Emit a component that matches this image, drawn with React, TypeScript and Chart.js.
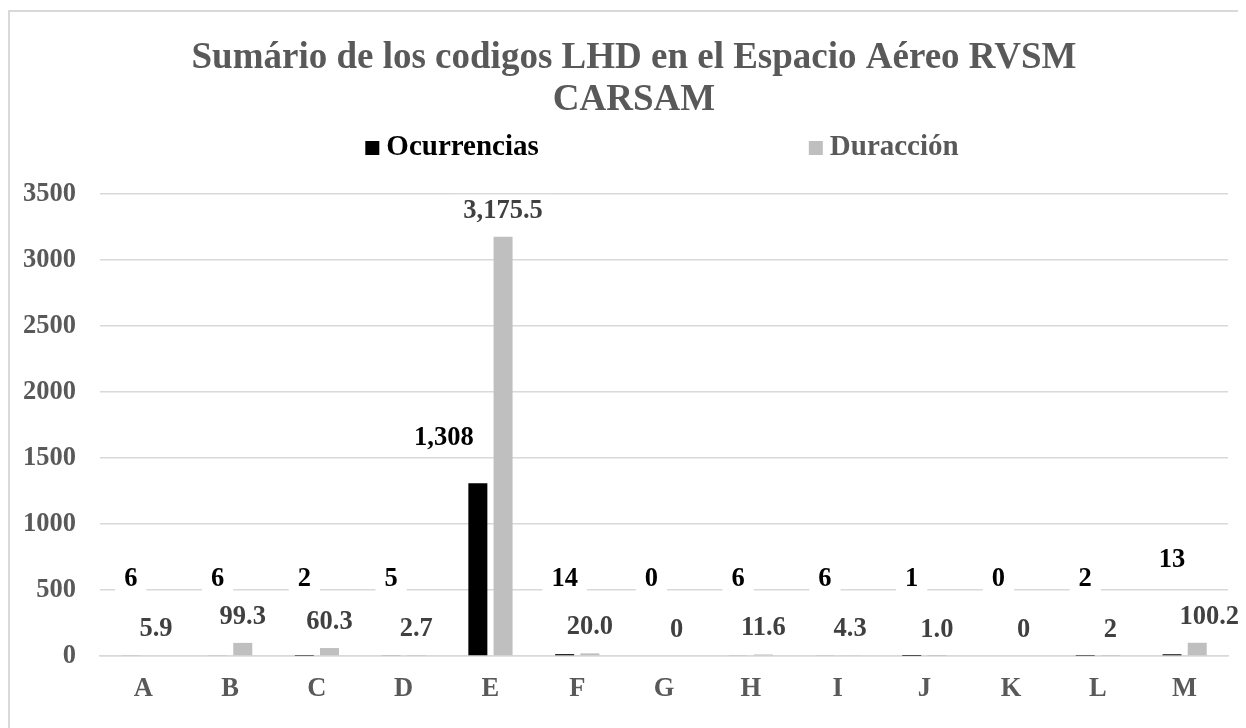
import React, { useEffect, useRef } from 'react';
import { Chart, registerables } from 'chart.js';

Chart.register(...registerables);

const categories = ['A', 'B', 'C', 'D', 'E', 'F', 'G', 'H', 'I', 'J', 'K', 'L', 'M'];
const ocurrencias = [6, 6, 2, 5, 1308, 14, 0, 6, 6, 1, 0, 2, 13];
const duracion = [5.9, 99.3, 60.3, 2.7, 3175.5, 20.0, 0, 11.6, 4.3, 1.0, 0, 2, 100.2];
const ocurrenciasLabels = ['6', '6', '2', '5', '1,308', '14', '0', '6', '6', '1', '0', '2', '13'];
const duracionLabels = ['5.9', '99.3', '60.3', '2.7', '3,175.5', '20.0', '0', '11.6', '4.3', '1.0', '0', '2', '100.2'];
const seriesNames = ['Ocurrencias', 'Duracción'];
const titleLines = ['Sumário de los codigos LHD en el Espacio Aéreo RVSM', 'CARSAM'];
const yMin = 0;
const yMax = 3500;
const yStep = 500;

const FONT = "'Liberation Serif', 'Times New Roman', serif";

const barLabelPlugin = {
  id: 'barLabels',
  afterDatasetsDraw(chart: any, _args: any, opts: any) {
    const ctx = chart.ctx;
    const y0 = chart.scales.y.getPixelForValue(0);
    const items: any[] = [];
    chart.data.datasets.forEach((_ds: any, di: number) => {
      const meta = chart.getDatasetMeta(di);
      const cfg = opts.series[di];
      meta.data.forEach((bar: any, i: number) => {
        const text = cfg.texts[i];
        let cy = bar.y - cfg.gap;
        if (cfg.minLift) cy = Math.min(cy, y0 - cfg.minLift);
        const n = (cfg.nudge && cfg.nudge[i]) || [0, 0];
        items.push({ text, cx: bar.x + n[0], cy: cy + n[1], color: cfg.color });
      });
    });
    ctx.save();
    ctx.font = `bold ${opts.size}px ${FONT}`;
    ctx.fillStyle = '#ffffff';
    items.forEach((it) => {
      const w = ctx.measureText(it.text).width;
      ctx.fillRect(it.cx - w / 2 - 9, it.cy - 16, w + 18, 32);
    });
    ctx.textAlign = 'center';
    ctx.textBaseline = 'middle';
    items.forEach((it) => {
      ctx.fillStyle = it.color;
      ctx.fillText(it.text, it.cx, it.cy);
    });
    ctx.restore();
  },
};

const customLegendPlugin = {
  id: 'customLegend',
  afterDraw(chart: any, _args: any, opts: any) {
    const ctx = chart.ctx;
    const area = chart.chartArea;
    ctx.save();
    ctx.font = `bold ${opts.size}px ${FONT}`;
    const box = opts.box;
    const textGap = opts.textGap;
    const widths = chart.data.datasets.map((ds: any) => ctx.measureText(ds.label).width);
    let total = 0;
    widths.forEach((w: number, i: number) => {
      total += box + textGap + w + (i < widths.length - 1 ? opts.itemGap : 0);
    });
    let x = (area.left + area.right) / 2 - total / 2 + opts.shiftX;
    const cy = opts.y;
    ctx.textBaseline = 'middle';
    ctx.textAlign = 'left';
    chart.data.datasets.forEach((ds: any, i: number) => {
      ctx.fillStyle = ds.backgroundColor;
      ctx.fillRect(x, cy - box / 2, box, box);
      ctx.fillStyle = opts.textColors[i];
      ctx.fillText(ds.label, x + box + textGap, cy);
      x += box + textGap + widths[i] + opts.itemGap;
    });
    ctx.restore();
  },
};

export default function App() {
  const canvasRef = useRef<HTMLCanvasElement | null>(null);

  useEffect(() => {
    if (!canvasRef.current) return;
    const chart = new Chart(canvasRef.current, {
      type: 'bar',
      data: {
        labels: categories,
        datasets: [
          {
            label: seriesNames[0],
            data: ocurrencias,
            backgroundColor: '#000000',
            categoryPercentage: 0.581,
            barPercentage: 0.754,
          },
          {
            label: seriesNames[1],
            data: duracion,
            backgroundColor: '#bfbfbf',
            categoryPercentage: 0.581,
            barPercentage: 0.754,
          },
        ],
      },
      options: {
        animation: false,
        responsive: false,
        maintainAspectRatio: false,
        layout: { padding: { left: 0, right: 2, top: 0, bottom: 32 } },
        plugins: {
          legend: { display: false },
          tooltip: { enabled: false },
          title: {
            display: true,
            text: titleLines,
            color: '#595959',
            font: { family: FONT, size: 37, weight: 'bold', lineHeight: 1.135 },
            padding: { top: 25.5, bottom: 72.5 },
          },
          barLabels: {
            size: 26.5,
            series: [
              { texts: ocurrenciasLabels, color: '#000000', gap: 45, minLift: 77, nudge: { 4: [-34, 0], 12: [0, -19] } },
              { texts: duracionLabels, color: '#404040', gap: 26, minLift: 0, nudge: { 12: [12, 0] } },
            ],
          },
          customLegend: {
            size: 29,
            box: 14,
            textGap: 7,
            itemGap: 270,
            y: 136,
            shiftX: -2,
            textColors: ['#000000', '#595959'],
          },
        } as any,
        scales: {
          x: {
            grid: { display: false, drawTicks: false },
            border: { display: true, color: '#d9d9d9', width: 1.5 },
            ticks: {
              color: '#595959',
              font: { family: FONT, size: 26.5, weight: 'bold' },
              padding: 17,
            },
            afterFit: (scale: any) => {
              scale.height = 50;
            },
          },
          y: {
            min: yMin,
            max: yMax,
            grid: { color: '#d9d9d9', lineWidth: 1.5, drawTicks: false },
            border: { display: false },
            ticks: {
              stepSize: yStep,
              color: '#595959',
              font: { family: FONT, size: 26.5, weight: 'bold' },
              padding: 24,
              callback: (value: any) => String(value),
            },
            afterFit: (scale: any) => {
              scale.width = 90;
            },
          },
          yRightSpace: {
            type: 'linear',
            position: 'right',
            display: true,
            grid: { display: false, drawTicks: false },
            border: { display: false },
            ticks: { display: false },
            afterFit: (scale: any) => {
              scale.width = 30;
            },
          },
        } as any,
      },
      plugins: [barLabelPlugin, customLegendPlugin],
    });
    return () => chart.destroy();
  }, []);

  return (
    <div style={{ width: 1238, height: 720, overflow: 'hidden' }}>
      <div
        style={{
          marginTop: 2,
          border: '2px solid #d9d9d9',
          width: 1260,
          height: 740,
          background: '#ffffff',
        }}
      >
        <canvas ref={canvasRef} width={1250} height={726} style={{ display: 'block' }} />
      </div>
    </div>
  );
}
